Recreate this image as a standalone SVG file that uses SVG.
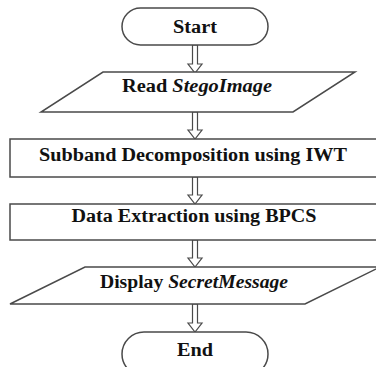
<svg xmlns="http://www.w3.org/2000/svg" width="376" height="367" viewBox="0 0 376 367">
<style>
.shape{fill:#fff;stroke:#4a4a4a;stroke-width:1.5}
.arrow{fill:#fff;stroke:#4a4a4a;stroke-width:1.2;stroke-linejoin:miter}
.t{font-family:"Liberation Serif","Times New Roman",serif;font-weight:bold;font-size:18px;fill:#111;text-anchor:middle}
.i{font-style:italic}
</style>
<rect width="376" height="367" fill="#fff"/>
<g id="connectors">
<polygon class="arrow" points="192.5,45 197.5,45 197.5,64 202,64 195,73 188,64 192.5,64"/>
<polygon class="arrow" points="192.5,112 197.5,112 197.5,130 202,130 195,139 188,130 192.5,130"/>
<polygon class="arrow" points="192.5,177 197.5,177 197.5,195 202,195 195,204 188,195 192.5,195"/>
<polygon class="arrow" points="192.5,240 197.5,240 197.5,258 202,258 195,267 188,258 192.5,258"/>
<polygon class="arrow" points="192.5,304 197.5,304 197.5,323 202,323 195,332 188,323 192.5,323"/>
</g>
<g id="start">
<rect class="shape" x="122" y="8" width="146" height="37" rx="18.5"/>
<text class="t" x="195" y="33" textLength="44" lengthAdjust="spacingAndGlyphs">Start</text>
</g>
<g id="read">
<polygon class="shape" points="103,72 355,72 293,112 41,112"/>
<text class="t" x="197" y="92" textLength="150" lengthAdjust="spacingAndGlyphs">Read <tspan class="i">StegoImage</tspan></text>
</g>
<g id="subband">
<rect class="shape" x="10" y="139" width="380" height="38"/>
<text class="t" x="193" y="161" textLength="308" lengthAdjust="spacingAndGlyphs">Subband Decomposition using IWT</text>
</g>
<g id="extract">
<rect class="shape" x="10" y="204" width="380" height="36"/>
<text class="t" x="194" y="222" textLength="245" lengthAdjust="spacingAndGlyphs">Data Extraction using BPCS</text>
</g>
<g id="display">
<polygon class="shape" points="85,267 380,267 305,304 10,304"/>
<text class="t" x="194" y="288" textLength="188" lengthAdjust="spacingAndGlyphs">Display <tspan class="i">SecretMessage</tspan></text>
</g>
<g id="end">
<rect class="shape" x="122" y="332" width="146" height="44" rx="22"/>
<text class="t" x="195" y="356" textLength="36" lengthAdjust="spacingAndGlyphs">End</text>
</g>
</svg>
